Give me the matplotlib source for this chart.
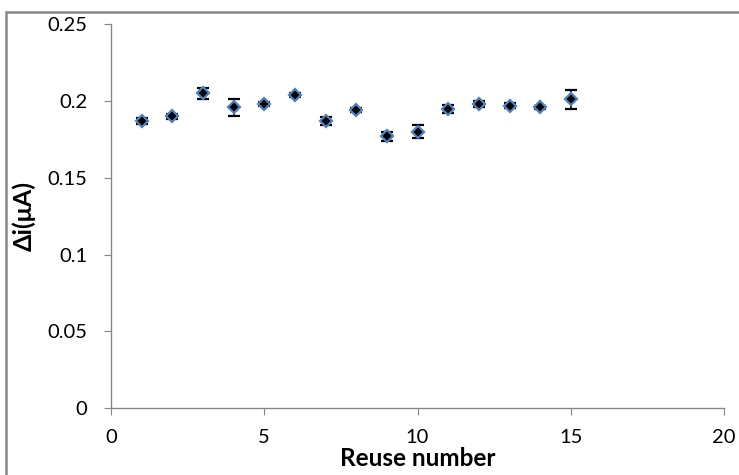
import numpy as np
import matplotlib.pyplot as plt
from matplotlib.ticker import FuncFormatter
from matplotlib.patches import Rectangle

# reuse data
reuse = [1, 2, 3, 4, 5, 6, 7, 8, 9, 10, 11, 12, 13, 14, 15]
delta_i = [0.187, 0.190, 0.205, 0.196, 0.198, 0.204, 0.187, 0.194,
           0.177, 0.180, 0.195, 0.198, 0.197, 0.196, 0.201]
err = [0.002, 0.0015, 0.0035, 0.0055, 0.0015, 0.0015, 0.0027, 0.0015,
       0.003, 0.0044, 0.0026, 0.002, 0.0015, 0.001, 0.0062]

x_ticks = [0, 5, 10, 15, 20]
y_ticks = [0, 0.05, 0.1, 0.15, 0.2, 0.25]

plt.rcParams['font.family'] = ['Lato', 'DejaVu Sans']

fig = plt.figure(figsize=(7.39, 4.75), dpi=100)
ax = fig.add_axes([0.150, 0.141, 0.830, 0.808])

ax.errorbar(reuse, delta_i, yerr=err, fmt='D', color='black',
            markerfacecolor='black', markeredgecolor='#4F81BD',
            markeredgewidth=1.6, markersize=6.5, ecolor='black',
            elinewidth=1.2, capsize=4, capthick=1.2)

ax.set_xlim(0, 20)
ax.set_ylim(0, 0.25)
ax.set_xticks(x_ticks)
ax.set_yticks(y_ticks)
ax.yaxis.set_major_formatter(FuncFormatter(lambda v, p: '%g' % v))

for s in ['top', 'right']:
    ax.spines[s].set_visible(False)
for s in ['left', 'bottom']:
    ax.spines[s].set_color('#868686')
    ax.spines[s].set_linewidth(1.0)
ax.tick_params(colors='#868686', labelcolor='black', labelsize=14.5,
               length=5, direction='out')
ax.tick_params(axis='x', pad=10)
ax.tick_params(axis='y', pad=12)

ax.set_xlabel('Reuse number', fontsize=17.5, fontweight='bold', labelpad=1)
ax.set_ylabel('Δi(μA)', fontsize=18, fontweight='bold', labelpad=8)

# outer chart border (cropped at right and bottom)
fig.patches.append(Rectangle((6 / 739, -0.05), 1.1, 1 - 12 / 475 + 0.05,
                             transform=fig.transFigure, fill=False,
                             edgecolor='#868686', linewidth=1.8))

plt.savefig('out.png', dpi=100)
